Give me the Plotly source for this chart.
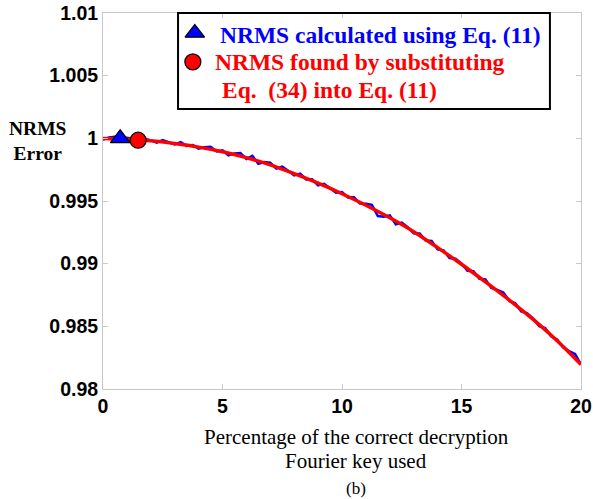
import numpy as np
import plotly.graph_objects as go

# Percentage of key used (x grid for the measured/blue series)
x_blue = np.linspace(0, 20, 81)
nrms_eq11 = [
    0.99990, 1.00007, 1.00012, 0.99990, 1.00005, 0.99996, 0.99979, 0.99997,
    0.99984, 0.99965, 0.99985, 0.99970, 0.99952, 0.99969, 0.99940, 0.99947,
    0.99918, 0.99929, 0.99932, 0.99896, 0.99905, 0.99865, 0.99880, 0.99882,
    0.99836, 0.99860, 0.99797, 0.99811, 0.99806, 0.99759, 0.99775, 0.99742,
    0.99704, 0.99719, 0.99672, 0.99673, 0.99624, 0.99637, 0.99604, 0.99567,
    0.99572, 0.99529, 0.99530, 0.99479, 0.99478, 0.99469, 0.99380, 0.99375,
    0.99386, 0.99314, 0.99327, 0.99291, 0.99243, 0.99241, 0.99184, 0.99182,
    0.99114, 0.99105, 0.99044, 0.99040, 0.99001, 0.98944, 0.98939, 0.98880,
    0.98875, 0.98807, 0.98791, 0.98770, 0.98702, 0.98683, 0.98618, 0.98604,
    0.98561, 0.98501, 0.98486, 0.98420, 0.98395, 0.98332, 0.98302, 0.98279,
    0.98195,
]

# Smooth theoretical series (Eq. 34 into Eq. 11)
x_red = list(range(0, 21))
nrms_eq34 = [
    0.99998, 0.99993, 0.99980, 0.99958, 0.99930, 0.99893, 0.99846, 0.99788,
    0.99718, 0.99642, 0.99558, 0.99466, 0.99366, 0.99255, 0.99128, 0.98995,
    0.98855, 0.98710, 0.98555, 0.98385, 0.98195,
]

# Single highlighted markers on the curves
tri_x, tri_y = [0.72], [1.0]
circ_x, circ_y = [1.47], [0.99985]

x_ticks = [0, 5, 10, 15, 20]
y_ticks = [0.98, 0.985, 0.99, 0.995, 1.0, 1.005, 1.01]
y_tick_text = ["0.98", "0.985", "0.99", "0.995", "1", "1.005", "1.01"]

legend_labels = [
    "NRMS calculated using Eq. (11)",
    "NRMS found by substituting",
    "Eq.&nbsp; (34) into Eq. (11)",
]

SERIF = "Times New Roman, Liberation Serif, serif"
SANS = "Arial, Liberation Sans, sans-serif"
BLUE = "#0000ff"
RED = "#ff0000"

fig = go.Figure()
fig.add_trace(go.Scatter(x=x_blue, y=nrms_eq11, mode="lines",
                         line=dict(color=BLUE, width=2.5), showlegend=False))
fig.add_trace(go.Scatter(x=x_red, y=nrms_eq34, mode="lines", line_shape="spline",
                         line=dict(color=RED, width=3.5), showlegend=False))
tri_marker = dict(symbol="triangle-up", size=17, color=BLUE, line=dict(color="black", width=1.2))
circ_marker = dict(symbol="circle", size=16, color=RED, line=dict(color="black", width=1.2))
fig.add_trace(go.Scatter(x=tri_x, y=tri_y, mode="markers", marker=tri_marker, showlegend=False))
fig.add_trace(go.Scatter(x=circ_x, y=circ_y, mode="markers", marker=circ_marker, showlegend=False))

# legend glyphs on an overlay axis spanning [0,1] of the plot area
fig.add_trace(go.Scatter(x=[0.192], y=[0.947], mode="markers", marker=tri_marker,
                         xaxis="x2", yaxis="y2", showlegend=False))
fig.add_trace(go.Scatter(x=[0.188], y=[0.870], mode="markers", marker=circ_marker,
                         xaxis="x2", yaxis="y2", showlegend=False))

axis_common = dict(
    showline=True, linecolor="#c8c8c8", linewidth=1, mirror="ticks",
    ticks="inside", ticklen=5, tickcolor="#c8c8c8", showgrid=False, zeroline=False,
    automargin=False,
    tickfont=dict(family=SANS, size=19.5, color="black"),
)

fig.update_xaxes(range=[0, 20], tickvals=x_ticks,
                 ticktext=[f"<b>{v}</b>" for v in x_ticks], **axis_common)
fig.update_yaxes(range=[0.98, 1.01], tickvals=y_ticks,
                 ticktext=[f"<b>{t}</b>" for t in y_tick_text], **axis_common)

fig.update_layout(
    width=593, height=499,
    margin=dict(l=103, r=12, t=13, b=110),
    plot_bgcolor="white", paper_bgcolor="white",
    showlegend=False,
    xaxis2=dict(overlaying="x", range=[0, 1], visible=False, automargin=False),
    yaxis2=dict(overlaying="y", range=[0, 1], visible=False, automargin=False),
    shapes=[
        dict(type="rect", xref="paper", yref="paper", x0=0.157, x1=0.935, y0=0.745, y1=1.0,
             line=dict(color="black", width=2), fillcolor="rgba(0,0,0,0)", layer="above"),
    ],
    annotations=[
        dict(text=f"<b>{legend_labels[0]}</b>", xref="paper", yref="paper",
             x=0.2406, y=0.9415, xanchor="left", yanchor="middle", showarrow=False,
             font=dict(family=SERIF, size=23.5, color=BLUE)),
        dict(text=f"<b>{legend_labels[1]}</b>", xref="paper", yref="paper",
             x=0.230, y=0.870, xanchor="left", yanchor="middle", showarrow=False,
             font=dict(family=SERIF, size=23.5, color=RED)),
        dict(text=f"<b>{legend_labels[2]}</b>", xref="paper", yref="paper",
             x=0.245, y=0.795, xanchor="left", yanchor="middle", showarrow=False,
             font=dict(family=SERIF, size=23.5, color=RED)),
        dict(text="<b>NRMS<br>Error</b>", xref="paper", yref="paper",
             x=-0.136, y=0.659, xanchor="center", yanchor="middle", showarrow=False,
             align="center", font=dict(family=SERIF, size=19.5, color="black")),
        dict(text="Percentage of the correct decryption",
             xref="paper", yref="paper", x=0.53, y=-0.128, xanchor="center", yanchor="middle",
             showarrow=False, font=dict(family=SERIF, size=21, color="black")),
        dict(text="Fourier key used",
             xref="paper", yref="paper", x=0.53, y=-0.192, xanchor="center", yanchor="middle",
             showarrow=False, font=dict(family=SERIF, size=21, color="black")),
        dict(text="(b)", xref="paper", yref="paper", x=0.53, y=-0.265,
             xanchor="center", yanchor="middle", showarrow=False,
             font=dict(family=SERIF, size=17, color="black")),
    ],
)

# remove the default 8px page margin so the figure fills the window exactly
fig.write_html("out.html", config={"displayModeBar": False},
               post_script="document.body.style.margin='0';")
